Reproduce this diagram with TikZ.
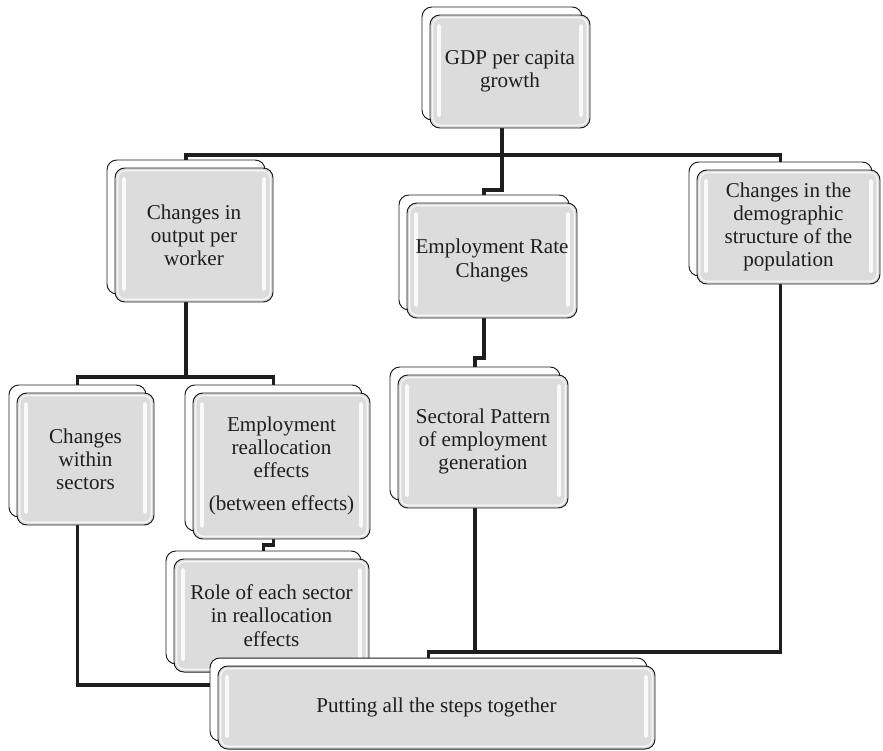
\documentclass[tikz,border=0pt]{standalone}
\usepackage{fontspec}
\setmainfont{Liberation Serif}
\usetikzlibrary{backgrounds}
\definecolor{ink}{RGB}{30,30,30}
\definecolor{cardgrey}{RGB}{220,220,220}
\definecolor{gloss}{RGB}{250,250,250}
\newcommand{\cardfont}{\fontsize{15}{16.5}\selectfont}
\tikzset{
  card size/.style 2 args={minimum width=#1*0.025cm,minimum height=#2*0.025cm,inner sep=0pt},
  card back/.style={draw=ink,fill=white,rounded corners=7pt,line width=0.7pt},
  card/.style={draw=ink,fill=cardgrey,rounded corners=7pt,line width=0.7pt,
    align=center,font=\cardfont,text=ink,
    path picture={
      \fill[gloss,rounded corners=1.2pt]
        ([xshift=5pt,yshift=-6.5pt]path picture bounding box.north west) rectangle
        ([xshift=7.8pt,yshift=8pt]path picture bounding box.south west);
      \fill[gloss,rounded corners=1.2pt]
        ([xshift=-5pt,yshift=-6.5pt]path picture bounding box.north east) rectangle
        ([xshift=-7.8pt,yshift=8pt]path picture bounding box.south east);
      \draw[white!75!cardgrey,line width=0.9pt,rounded corners=5pt]
        ([shift={(2pt,-2pt)}]path picture bounding box.north west) rectangle
        ([shift={(-2pt,2pt)}]path picture bounding box.south east);
    }},
  link/.style={draw=ink,line width=2.2pt},
}
% back sheet shifted up-left, front sheet with the text
\newcommand{\cardbox}[6]{%
  \node[card back,card size={#4}{#5}] (#1-b) at (#2-8,#3-8) {};
  \node[card,card size={#4}{#5}] (#1) at (#2,#3) {#6};}

\begin{document}
\begin{tikzpicture}[x=0.025cm,y=-0.025cm]
  \useasboundingbox (0,0) rectangle (883,751);

  \cardbox{gdp}{510}{71.5}{160}{113}{GDP per capita\\growth}
  \cardbox{out}{194}{235}{158}{134}{Changes in\\output per\\worker}
  \cardbox{rate}{492}{260.5}{170}{115}{Employment Rate\\Changes}
  \cardbox{demo}{788.5}{227}{183}{114}{Changes in the\\demographic\\structure of the\\population}
  \cardbox{within}{85.5}{459}{137}{132}{Changes\\within\\sectors}
  \cardbox{realloc}{281.5}{466}{177}{146}{Employment\\reallocation\\effects\\[7pt](between effects)}
  \cardbox{sect}{483}{441.5}{170}{133}{Sectoral Pattern\\of employment\\generation}
  \cardbox{role}{271.5}{615.5}{195}{113}{Role of each sector\\in reallocation\\effects}
  \cardbox{put}{436.5}{707.5}{437}{83}{Putting all the steps together}

  \coordinate (top bus) at (0,155);
  \coordinate (rate bus) at (0,190);
  \coordinate (sect bus) at (0,358);
  \coordinate (mid bus) at (0,377);
  \coordinate (role bus) at (0,545);
  \coordinate (low bus) at (0,652);
  \coordinate (left bus) at (0,685);

  \begin{scope}[on background layer]
    \draw[link] (out-b.north) |- (gdp-b.south |- top bus) -| (demo-b.north);
    \draw[link] (gdp-b.south) -- (gdp-b.south |- rate bus) -| (rate-b.north);
    \draw[link] (rate-b.south) -- (rate-b.south |- sect bus) -| (sect-b.north);
    \draw[link] (out-b.south) -- (out-b.south |- mid bus);
    \draw[link] (within-b.north) |- (out-b.south |- mid bus) -| (realloc-b.north);
    \draw[link] (realloc-b.south) -- (realloc-b.south |- role bus) -| (role-b.north);
    \draw[link] (demo-b.south) |- (put-b.north |- low bus) -- (put-b.north);
    \draw[link] (sect-b.south) -- (sect-b.south |- low bus);
    \draw[link] (within-b.south) |- (put-b.west |- left bus);
  \end{scope}
\end{tikzpicture}
\end{document}
